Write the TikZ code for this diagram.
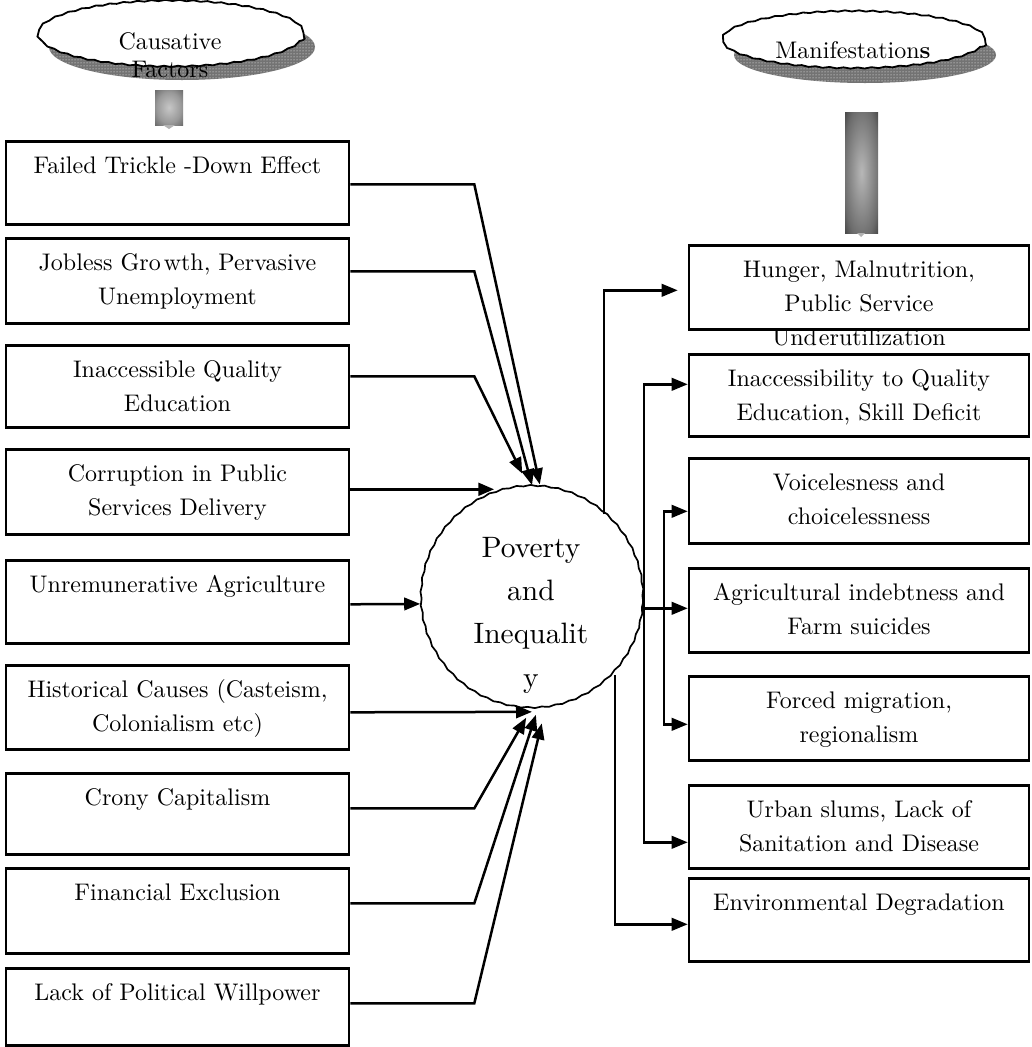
\documentclass[tikz,border=0pt]{standalone}
\usepackage{fontspec}
\setmainfont{lmroman10-regular.otf}[BoldFont=lmroman10-bold.otf, ItalicFont=lmroman10-italic.otf]
\usetikzlibrary{arrows.meta,shapes.geometric,decorations.pathmorphing,patterns}
\pgfdeclareradialshading{sqshade}{\pgfpoint{0bp}{0bp}}{rgb(0bp)=(0.78,0.78,0.78); rgb(22bp)=(0.6,0.6,0.6); rgb(50bp)=(0.22,0.22,0.22)}
\pgfdeclareradialshading{barshade}{\pgfpoint{0bp}{0bp}}{rgb(0bp)=(0.72,0.72,0.72); rgb(28bp)=(0.42,0.42,0.42); rgb(50bp)=(0.02,0.02,0.02)}
\newcommand\bxt[3]{\parbox[t][#1pt][t]{#2pt}{\vspace*{8.5pt}\centering\strut #3}}
\begin{document}
\begin{tikzpicture}[x=1pt,y=-1pt,
  cbox/.style={draw, line width=2.6pt, rectangle, inner sep=0pt, anchor=north,
    font=\fontsize{24}{34}\selectfont},
  wavy/.style={decorate, decoration={snake, segment length=14pt, amplitude=0.6pt}},
  ell/.style={ellipse, draw, line width=1.8pt, fill=white, inner sep=0pt, wavy},
  etext/.style={font=\fontsize{24}{28}\selectfont, align=center, inner sep=0pt},
  ctext/.style={font=\fontsize{29.5}{43.3}\selectfont, align=center, inner sep=0pt},
  arr/.style={draw, line width=2.5pt, -{Triangle[length=16pt,width=12.5pt]}},
  shadowfill/.style={fill=black!55},
  shadowdots/.style={pattern=dots, pattern color=white}]
\useasboundingbox (0,0) rectangle (1031,1047);
\fill[white] (0,0) rectangle (1031,1047);

% shadows of the two ellipses
\fill[shadowfill] (182,47) ellipse [x radius=133pt, y radius=33pt];
\fill[shadowdots] (182,47) ellipse [x radius=133pt, y radius=33pt];
\fill[shadowfill] (865,55) ellipse [x radius=131pt, y radius=28pt];
\fill[shadowdots] (865,55) ellipse [x radius=131pt, y radius=28pt];

% ellipses
\node[ell, minimum width=266pt, minimum height=66pt] (cause) at (171,37) {};
\node[ell, minimum width=263pt, minimum height=57pt] (manif) at (854,43) {};
\node[etext, anchor=north] (causetxt) at (170,29.4) {\strut Causative\\\strut Factors};
\node[etext, anchor=base] (maniftxt) at (853,58) {Manifestation\textbf{s}};

% gradient block arrows
\shade[shading=sqshade] (155,90) rectangle (183,125);
\fill[gray!60] (163,125) -- (175,125) -- (169,129) -- cycle;
\shade[shading=barshade] (845,112) rectangle (878,233);
\fill[gray!60] (857,233) -- (865,233) -- (861,237) -- cycle;

% left boxes
\node[cbox] (c1) at (177.5,140) {\bxt{83}{343}{Failed Trickle -Down Effect}};
\node[cbox] (c2) at (177.5,237) {\bxt{85}{343}{Jobless Gro\kern3pt wth, Pervasive\\\strut Unemployment}};
\node[cbox] (c3) at (177.5,344) {\bxt{82}{343}{Inaccessible Quality\\\strut Education}};
\node[cbox] (c4) at (177.5,448) {\bxt{85}{343}{Corruption in Public\\\strut Services Delivery}};
\node[cbox] (c5) at (177.5,559) {\bxt{83}{343}{Unremunerative Agriculture}};
\node[cbox] (c6) at (177.5,664) {\bxt{84}{343}{Historical Causes (Casteism,\\\strut Colonialism etc)}};
\node[cbox] (c7) at (177.5,772) {\bxt{81}{343}{Crony Capitalism}};
\node[cbox] (c8) at (177.5,867) {\bxt{85}{343}{Financial Exclusion}};
\node[cbox] (c9) at (177.5,967) {\bxt{77}{343}{Lack of Political Willpower}};

% right boxes
\node[cbox] (r1) at (859,244) {\bxt{84}{340}{Hunger, Malnutrition,\\\strut Public Service\\\strut Und\kern2pt erutilization}};
\node[cbox] (r2) at (859,353) {\bxt{82}{340}{Inaccessibility to Quality\\\strut Education, Skill Deficit}};
\node[cbox] (r3) at (859,457) {\bxt{85}{340}{Voicelesness and\\\strut choicelessness}};
\node[cbox] (r4) at (859,567) {\bxt{84}{340}{Agricultural indebtness and\\\strut Farm suicides}};
\node[cbox] (r5) at (859,675) {\bxt{84}{340}{Forced migration,\\\strut regionalism}};
\node[cbox] (r6) at (859,784) {\bxt{83}{340}{Urban slums, Lack of\\\strut Sanitation and Disease}};
\node[cbox] (r7) at (859,877) {\bxt{83}{340}{Environmental Degradation}};

% central circle
\node[circle, draw, line width=1.7pt, minimum size=222pt, inner sep=0pt, fill=white, wavy] (pov) at (532,600) {};
\node[ctext, anchor=north] (povtxt) at (531,526.7) {\strut Poverty\\\strut and\\\strut Inequalit\\\strut y};

% causes -> poverty
\draw[arr] ([yshift=-1.5pt]c1.east) -- ++(124,0) -- ([yshift=4pt]pov.86);
\draw[arr] ([yshift=9.5pt]c2.east) -- ++(124,0) -- ([yshift=3pt]pov.north);
\draw[arr] ([yshift=10pt]c3.east) -- ++(124,0) -- ([yshift=15pt]pov.95);
\draw[arr, line width=3.3pt] ([yshift=2.5pt]c4.east) -- ++(144,0);
\draw[arr] ([yshift=-2.5pt]c5.east) -- (pov.182);
\draw[arr] ([yshift=-5pt]c6.east) -- (pov.south);
\draw[arr] ([yshift=5.5pt]c7.east) -- ++(124,0) -- ([yshift=-6pt]pov.267);
\draw[arr] ([yshift=7.5pt]c8.east) -- ++(124,0) -- ([yshift=-3pt]pov.272);
\draw[arr] ([yshift=3.5pt]c9.east) -- ++(124,0) -- ([yshift=-12pt]pov.275);

% poverty -> manifestations
\draw[arr, shorten >=10pt] (pov.50) |- ([yshift=-3pt]r1.west);
\draw[arr] (pov.east) |- ([yshift=11pt]r2.west);
\draw[arr] ([yshift=2pt]r4.west -| pov.east) -- ([yshift=2pt]r4.west);
\path ([yshift=2pt]r4.west -| pov.east) ++(20,0) coordinate (jn);
\draw[arr] (jn) |- ([yshift=-10.5pt]r3.west);
\draw[arr] (jn) |- ([yshift=-6pt]r5.west);
\draw[arr] (pov.east) |- ([yshift=-15.5pt]r6.west);
\draw[arr] (pov.-42) |- ([yshift=-4.5pt]r7.west);
\end{tikzpicture}
\end{document}
